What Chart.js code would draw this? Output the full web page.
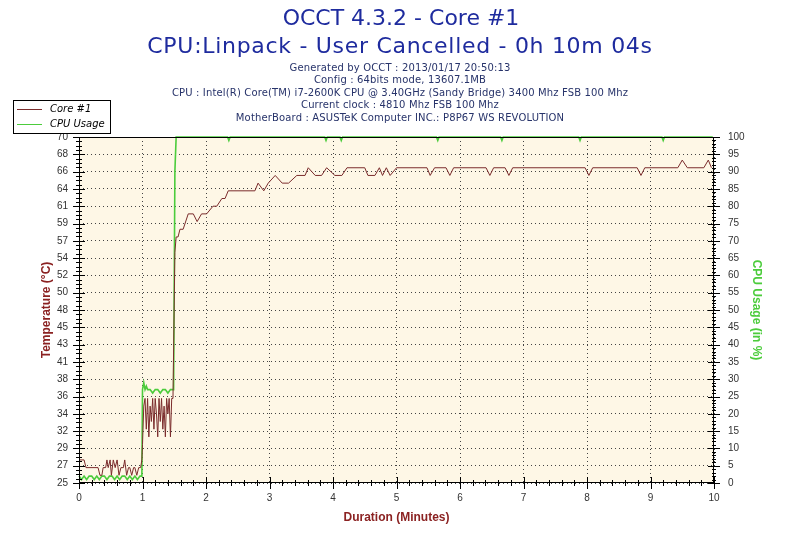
<!DOCTYPE html>
<html>
<head>
<meta charset="utf-8">
<script src="https://cdn.jsdelivr.net/npm/chart.js@4/dist/chart.umd.min.js"></script>
<style>
  html, body { margin: 0; padding: 0; background: #fff; }
</style>
</head>
<body>
<canvas id="chart" width="800" height="533"></canvas>
<script>
// readings taken off the OCCT graph (time in minutes)
const tempTimes = [
  0.00, 0.08, 0.11, 0.30, 0.33, 0.36, 0.38, 0.42, 0.44, 0.46, 0.49, 0.51, 0.54, 0.57, 0.60,
  0.63, 0.66, 0.70, 0.72, 0.75, 0.78, 0.80, 0.83, 0.86, 0.88, 0.91, 0.94, 0.97, 0.99,
  1.00, 1.02, 1.04, 1.06, 1.08, 1.10, 1.12, 1.14, 1.16, 1.18, 1.20, 1.22, 1.24, 1.26, 1.28,
  1.30, 1.32, 1.34, 1.36, 1.38, 1.40, 1.42, 1.44, 1.46, 1.48,
  1.51, 1.53, 1.56, 1.59, 1.64, 1.72, 1.80, 1.86, 1.93, 2.01, 2.11, 2.17, 2.25, 2.30, 2.35,
  2.77, 2.82, 2.91, 2.98, 3.09, 3.20, 3.30, 3.43, 3.56, 3.61, 3.72, 3.82, 3.90, 4.03, 4.14,
  4.22, 4.50, 4.55, 4.66, 4.73, 4.78, 4.84, 4.90, 5.00, 5.48, 5.53, 5.60, 5.78, 5.84, 5.90,
  6.41, 6.47, 6.53, 6.71, 6.77, 6.83, 7.97, 8.03, 8.09, 8.79, 8.85, 8.91, 9.43, 9.50, 9.58,
  9.84, 9.91, 9.96
];
const tempValues = [
  28, 28, 27, 27, 26, 26, 27, 27, 28, 27, 28, 26, 28, 27, 28,
  26, 27, 27, 28, 26, 27, 27, 26, 27, 27, 26, 27, 27, 28,
  30, 35, 36, 32, 36, 31, 35, 33, 36, 32, 36, 34, 31, 36, 33,
  36, 32, 35, 31, 36, 34, 36, 31, 36, 36,
  55, 57, 57, 58, 58, 60, 60, 59, 60, 60, 61, 61, 62, 62, 63,
  63, 64, 63, 64, 65, 64, 64, 65, 65, 66, 65, 65, 66, 65, 65,
  66, 66, 65, 65, 66, 65, 66, 65, 66, 66, 65, 66, 66, 65, 66,
  66, 65, 66, 66, 65, 66, 66, 65, 66, 66, 65, 66, 66, 67, 66,
  66, 67, 66
];

const cpuTimes = [
  0.00, 0.04, 0.08, 0.12, 0.16, 0.20, 0.24, 0.28, 0.32, 0.36, 0.40, 0.44, 0.48, 0.52, 0.56,
  0.60, 0.64, 0.68, 0.72, 0.76, 0.80, 0.84, 0.88, 0.92, 0.96, 0.99,
  1.00, 1.02, 1.04, 1.06, 1.08, 1.12, 1.16, 1.20, 1.24, 1.28, 1.32, 1.36, 1.40, 1.44, 1.49,
  1.51, 1.53, 2.34, 2.36, 2.38, 3.87, 3.89, 3.91, 4.11, 4.13, 4.15, 5.63, 5.65, 5.67,
  6.64, 6.66, 6.68, 7.87, 7.89, 7.91, 9.18, 9.20, 9.22, 9.98
];
const cpuValues = [
  2, 1, 2, 1, 2, 2, 1, 2, 1, 2, 2, 1, 2, 2, 1,
  2, 1, 2, 2, 1, 2, 1, 2, 1, 2, 2,
  27, 29, 27, 28, 27, 27, 26, 27, 27, 26, 27, 27, 26, 27, 27,
  90, 100, 100, 99, 100, 100, 99, 100, 100, 99, 100, 100, 99, 100,
  100, 99, 100, 100, 99, 100, 100, 99, 100, 100
];

const tempTickLabels = [25, 27, 29, 32, 34, 36, 38, 41, 43, 45, 48, 50, 52, 54, 57, 59, 61, 64, 66, 68, 70];

const titleLines = ["OCCT 4.3.2 - Core #1", "CPU:Linpack - User Cancelled - 0h 10m 04s"];
const infoLines = [
  "Generated by OCCT : 2013/01/17 20:50:13",
  "Config : 64bits mode, 13607.1MB",
  "CPU : Intel(R) Core(TM) i7-2600K CPU @ 3.40GHz (Sandy Bridge) 3400 Mhz FSB 100 Mhz",
  "Current clock : 4810 Mhz FSB 100 Mhz",
  "MotherBoard : ASUSTeK Computer INC.: P8P67 WS REVOLUTION"
];

const tempColor = "#7b2c2c";
const cpuColor = "#4ccc3c";
const tickFont = { family: "Liberation Sans", size: 10 };

const decorations = {
  id: "decorations",
  beforeDraw(chart) {
    const { ctx, chartArea: a } = chart;
    ctx.save();
    ctx.fillStyle = "#fff";
    ctx.fillRect(0, 0, chart.width, chart.height);
    ctx.fillStyle = "#fef7e6";
    ctx.fillRect(a.left, a.top, a.right - a.left, a.bottom - a.top);
    ctx.restore();
  },
  afterDraw(chart) {
    const { ctx, chartArea: a, scales } = chart;
    ctx.save();
    ctx.strokeStyle = "#000";
    ctx.lineWidth = 1;
    const line = (x1, y1, x2, y2) => {
      ctx.beginPath();
      ctx.moveTo(x1, y1);
      ctx.lineTo(x2, y2);
      ctx.stroke();
    };
    ctx.strokeRect(a.left + 0.5, a.top + 0.5, a.right - a.left - 1, a.bottom - a.top - 1);

    // x ticks: every minute plus 0.2 min minors
    for (let i = 0; i <= 50; i++) {
      const px = Math.round(scales.x.getPixelForValue(i / 5)) + 0.5;
      const len = i % 5 === 0 ? 6 : 3;
      line(px, a.bottom - len, px, a.bottom + len);
    }
    // temperature ticks
    for (let i = 0; i <= 80; i++) {
      const py = Math.round(scales.yTemp.getPixelForValue(25 + i * 45 / 80)) + 0.5;
      const len = i % 4 === 0 ? 6 : 3;
      line(a.left - len, py, a.left + len, py);
    }
    // cpu ticks
    for (let v = 0; v <= 100; v++) {
      const py = Math.round(scales.yCpu.getPixelForValue(v)) + 0.5;
      const len = v % 5 === 0 ? 6 : 2;
      line(a.right - len, py, a.right + len, py);
    }

    // titles
    ctx.textAlign = "center";
    ctx.textBaseline = "middle";
    ctx.fillStyle = "#1e2b9e";
    ctx.font = "22px 'DejaVu Sans'";
    ctx.fillText(titleLines[0], 401, 19);
    ctx.letterSpacing = "0.7px";
    ctx.fillText(titleLines[1], 400, 47);
    ctx.fillStyle = "#27336a";
    ctx.font = "10px 'DejaVu Sans'";
    ctx.letterSpacing = "0.15px";
    infoLines.forEach((t, i) => ctx.fillText(t, 400, 68 + i * 12.5));
    ctx.letterSpacing = "0px";

    // legend box
    ctx.fillStyle = "#fff";
    ctx.fillRect(13, 100, 97, 33);
    ctx.strokeRect(13.5, 100.5, 97, 33);
    ctx.textAlign = "left";
    ctx.font = "italic 10px 'DejaVu Sans'";
    ctx.fillStyle = "#000";
    ctx.strokeStyle = tempColor;
    line(17, 109.5, 42, 109.5);
    ctx.fillText("Core #1", 50, 109);
    ctx.strokeStyle = cpuColor;
    line(17, 124.5, 42, 124.5);
    ctx.fillText("CPU Usage", 50, 124);
    ctx.restore();
  }
};

const chart = new Chart(document.getElementById("chart").getContext("2d"), {
  type: "line",
  data: {
    datasets: [
      {
        label: "Core #1",
        data: tempTimes.map((t, i) => ({ x: t, y: tempValues[i] })),
        borderColor: tempColor,
        borderWidth: 1,
        pointRadius: 0,
        tension: 0,
        yAxisID: "yTemp"
      },
      {
        label: "CPU Usage",
        data: cpuTimes.map((t, i) => ({ x: t, y: cpuValues[i] })),
        borderColor: cpuColor,
        borderWidth: 1.6,
        pointRadius: 0,
        tension: 0,
        clip: 3,
        yAxisID: "yCpu"
      }
    ]
  },
  options: {
    responsive: false,
    animation: false,
    devicePixelRatio: 1,
    layout: { padding: { top: 137, left: 0, right: 0, bottom: 0 } },
    plugins: {
      legend: { display: false },
      tooltip: { enabled: false }
    },
    scales: {
      x: {
        type: "linear",
        min: 0,
        max: 10,
        ticks: { stepSize: 1, color: "#333", font: tickFont, padding: 9, maxRotation: 0 },
        grid: { color: "#444", drawTicks: false },
        border: { display: false, dash: [1, 3] },
        title: {
          display: true,
          text: "Duration (Minutes)",
          color: "#8b2222",
          font: { family: "Liberation Sans", size: 12, weight: "bold" },
          padding: { top: 4, bottom: 8 }
        },
        afterFit: (s) => { s.height = 50; }
      },
      yTemp: {
        type: "linear",
        position: "left",
        min: 25,
        max: 70,
        afterBuildTicks: (s) => {
          s.ticks = tempTickLabels.map((l, i) => ({ value: 25 + i * 45 / 20 }));
        },
        ticks: {
          color: "#333",
          font: tickFont,
          padding: 11,
          callback: (v, i) => tempTickLabels[i]
        },
        grid: { color: "#444", drawTicks: false },
        border: { display: false, dash: [1, 3] },
        title: {
          display: true,
          text: "Temperature (°C)",
          color: "#8b2222",
          font: { family: "Liberation Sans", size: 12, weight: "bold" },
          padding: 39
        },
        afterFit: (s) => { s.width = 79; }
      },
      yCpu: {
        type: "linear",
        position: "right",
        min: 0,
        max: 100,
        ticks: { stepSize: 5, color: "#333", font: tickFont, padding: 14 },
        grid: { display: false, drawTicks: false },
        border: { display: false },
        title: {
          display: true,
          text: "CPU Usage (in %)",
          color: cpuColor,
          font: { family: "Liberation Sans", size: 12, weight: "bold" },
          padding: 36
        },
        afterFit: (s) => { s.width = 86; }
      }
    }
  },
  plugins: [decorations]
});
</script>
</body>
</html>
